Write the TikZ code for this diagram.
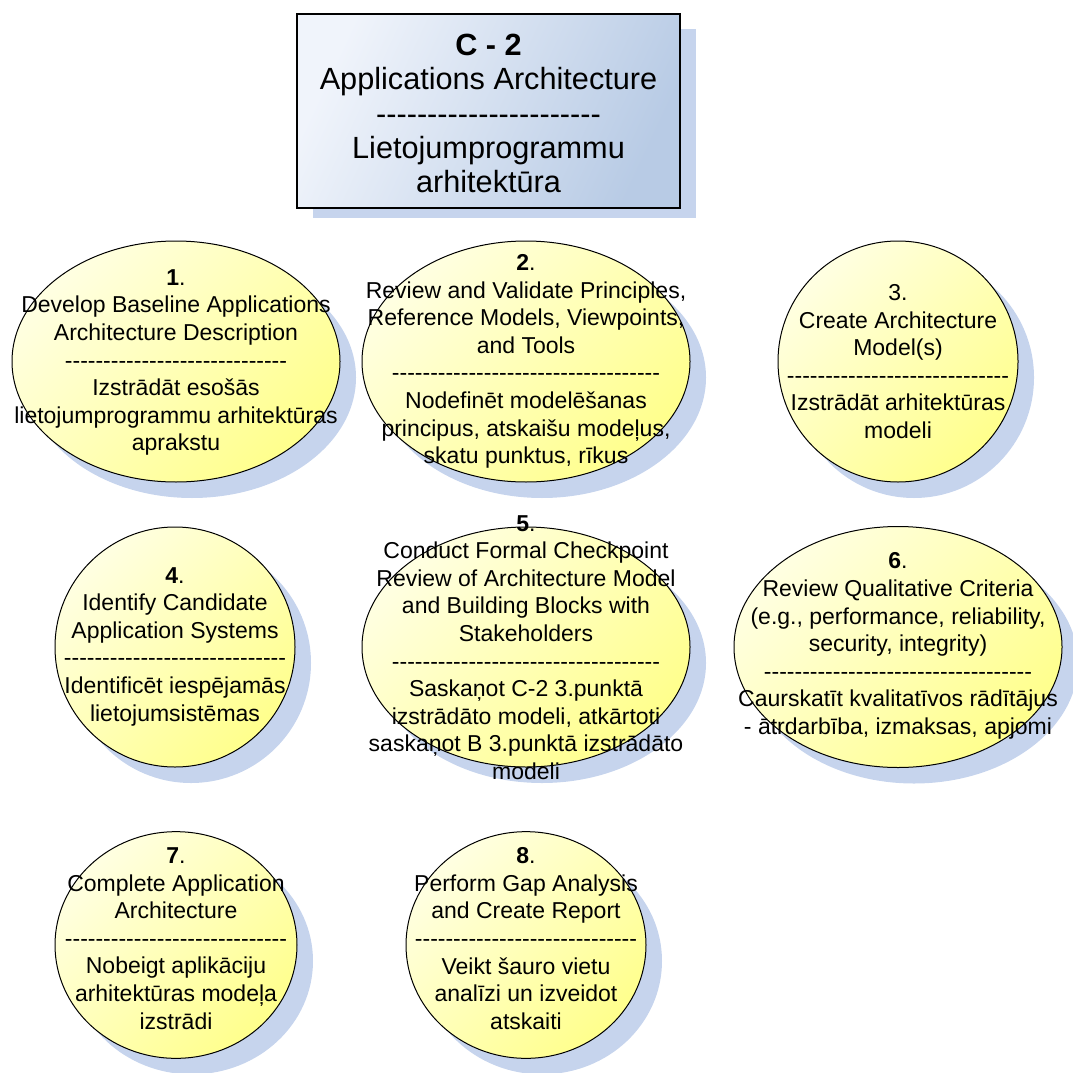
\documentclass[tikz,border=0pt]{standalone}
\usepackage{fontspec}
\setmainfont{Liberation Sans}[Ligatures=TeXOff]
\usetikzlibrary{shapes.geometric,shadows}

\definecolor{shadowblue}{RGB}{198,212,237}
\definecolor{yellowlight}{RGB}{255,255,226}
\definecolor{yellowdark}{RGB}{255,255,140}
\definecolor{boxlight}{RGB}{240,244,251}
\definecolor{boxdark}{RGB}{184,203,229}

% runs of hyphens used as separators inside the labels
\def\dten{----------}
\def\dshort{\dten\dten---------}
\def\dlong{\dten\dten\dten-----}
\def\dtitle{\dten\dten--}

\begin{document}
\begin{tikzpicture}[x=0.75pt,y=-0.75pt,
  task/.style={ellipse, draw=black, line width=0.75pt, inner sep=0pt,
    drop shadow={shadow xshift=12pt, shadow yshift=-12pt, fill=shadowblue, opacity=1},
    top color=yellowlight, bottom color=yellowdark, shading angle=45},
  wide/.style={minimum width=246pt, minimum height=180.75pt},
  round/.style={minimum width=180pt, minimum height=180pt},
  low/.style={minimum width=181.5pt, minimum height=170pt},
  tasktext/.style={align=center, inner sep=0pt,
    font=\fontsize{17.25}{20.7}\selectfont},
  titlebox/.style={rectangle, draw=black, line width=1.5pt, inner sep=0pt,
    minimum width=287.25pt, minimum height=145.5pt,
    top color=boxlight, bottom color=boxdark, shading angle=65},
  titletext/.style={align=center, inner sep=0pt,
    font=\fontsize{23}{25.7}\selectfont}
]
\useasboundingbox (0,0) rectangle (1072,1073);

% title block with its offset shadow
\fill[shadowblue] (313,29) rectangle (696,218);
\node[titlebox] (title) at (488.5,111) {};
\node[titletext] (titlelbl) at (488.5,113.5)
  {\textbf{C - 2}\\Applications Architecture\\\dtitle\\Lietojumprogrammu\\arhitektūra};

% row 1
\node[task, wide] (e1) at (176,361.5) {};
\node[task, wide] (e2) at (526,361.5) {};
\node[task, round, minimum height=180.75pt] (e3) at (898,361.5) {};
% row 2
\node[task, round] (e4) at (175,647) {};
\node[task, wide, minimum height=180pt] (e5) at (526,647) {};
\node[task, wide] (e6) at (898,647) {};
% row 3
\node[task, low] (e7) at (176,945) {};
\node[task, low, minimum width=180pt] (e8) at (526,945) {};

\node[tasktext] (t1) at (176,362.5) {\textbf{1}.\\Develop Baseline Applications\\Architecture Description\\\dshort\\Izstrādāt esošās\\lietojumprogrammu arhitektūras\\aprakstu};
\node[tasktext] (t2) at (526,361.5) {\textbf{2}.\\Review and Validate Principles,\\Reference Models, Viewpoints,\\and Tools\\\dlong\\Nodefinēt modelēšanas\\principus, atskaišu modeļus,\\skatu punktus, rīkus};
\node[tasktext] (t3) at (898,361.5) {3.\\Create Architecture\\Model(s)\\\dshort\\Izstrādāt arhitektūras\\modeli};
\node[tasktext] (t4) at (175,646.5) {\textbf{4}.\\Identify Candidate\\Application Systems\\\dshort\\Identificēt iespējamās\\lietojumsistēmas};
\node[tasktext] (t5) at (526,647.5) {\textbf{5}.\\Conduct Formal Checkpoint\\Review of Architecture Model\\and Building Blocks with\\Stakeholders\\\dlong\\Saskaņot C-2 3.punktā\\izstrādāto modeli, atkārtoti\\saskaņot B 3.punktā izstrādāto\\modeli};
\node[tasktext] (t6) at (898,646) {\textbf{6}.\\Review Qualitative Criteria\\(e.g., performance, reliability,\\security, integrity)\\\dlong\\Caurskatīt kvalitatīvos rādītājus\\- ātrdarbība, izmaksas, apjomi};
\node[tasktext] (t7) at (176,938.5) {\textbf{7}.\\Complete Application\\Architecture\\\dshort\\Nobeigt aplikāciju\\arhitektūras modeļa\\izstrādi};
\node[tasktext] (t8) at (526,938.5) {\textbf{8}.\\Perform Gap Analysis\\and Create Report\\\dshort\\Veikt šauro vietu\\analīzi un izveidot\\atskaiti};
\end{tikzpicture}
\end{document}
